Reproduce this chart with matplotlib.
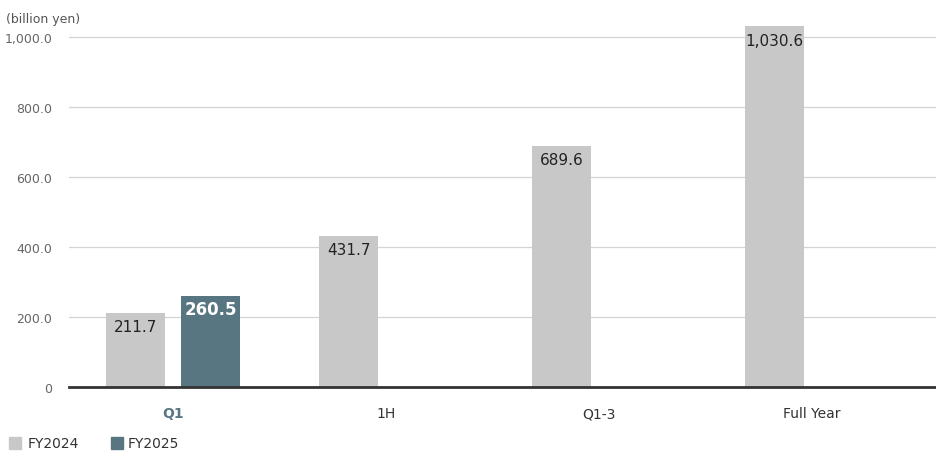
import matplotlib.pyplot as plt
import numpy as np

categories = ['Q1', '1H', 'Q1-3', 'Full Year']
fy2024 = [211.7, 431.7, 689.6, 1030.6]
fy2025 = [260.5, None, None, None]
yticks = [0, 200, 400, 600, 800, 1000]
ytick_labels = ['0', '200.0', '400.0', '600.0', '800.0', '1,000.0']

c24 = '#c8c8c8'
c25 = '#587682'

fig = plt.figure(figsize=(9.36, 4.56), dpi=100)
ax = fig.add_axes([69 / 936, 1 - 388 / 456, (936 - 69) / 936, 367 / 456])

x = np.arange(len(categories))
w = 0.28
off = 0.176
ax.bar(x - off, fy2024, w, color=c24, zorder=2)
x25 = [xi + off for xi, v in zip(x, fy2025) if v is not None]
v25 = [v for v in fy2025 if v is not None]
ax.bar(x25, v25, w, color=c25, zorder=2)

for xi, v in zip(x, fy2024):
    ax.text(xi - off, v - 18, f'{v:,.1f}', ha='center', va='top',
            fontsize=11, color='#222222', zorder=3)
for xi, v in zip(x25, v25):
    ax.text(xi, v - 12, f'{v:,.1f}', ha='center', va='top',
            fontsize=12, color='white', fontweight='bold', zorder=3)

ax.set_xlim(-104 / 213, (936 - 173) / 213)
ax.set_ylim(0, 1048.6)
ax.set_yticks(yticks)
ax.set_yticklabels(ytick_labels)
ax.set_xticks(x)
ax.set_xticklabels(categories)
ax.tick_params(axis='y', length=0, pad=12, labelsize=9, labelcolor='#666666')
ax.tick_params(axis='x', length=0, pad=14, labelsize=10, labelcolor='#333333')
lbl = ax.get_xticklabels()[0]
lbl.set_color(c25)
lbl.set_fontweight('bold')

ax.grid(axis='y', color='#d4d4d4', linewidth=0.9, zorder=0)
for s in ax.spines.values():
    s.set_visible(False)
ax.axhline(0, color='#333333', linewidth=2, zorder=3, clip_on=False)

fig.text(6 / 936, 1 - 19 / 456, '(billion yen)', fontsize=9, color='#555555',
         va='center', ha='left')

# legend
fig.patches.append(plt.Rectangle((9 / 936, 1 - 450 / 456), 12 / 936, 12 / 456,
                                 transform=fig.transFigure, color=c24))
fig.text(28 / 936, 1 - 444 / 456, 'FY2024', fontsize=10, color='#333333', va='center')
fig.patches.append(plt.Rectangle((111 / 936, 1 - 450 / 456), 12 / 936, 12 / 456,
                                 transform=fig.transFigure, color=c25))
fig.text(128 / 936, 1 - 444 / 456, 'FY2025', fontsize=10, color='#333333', va='center')

fig.savefig('out.png', dpi=100)
